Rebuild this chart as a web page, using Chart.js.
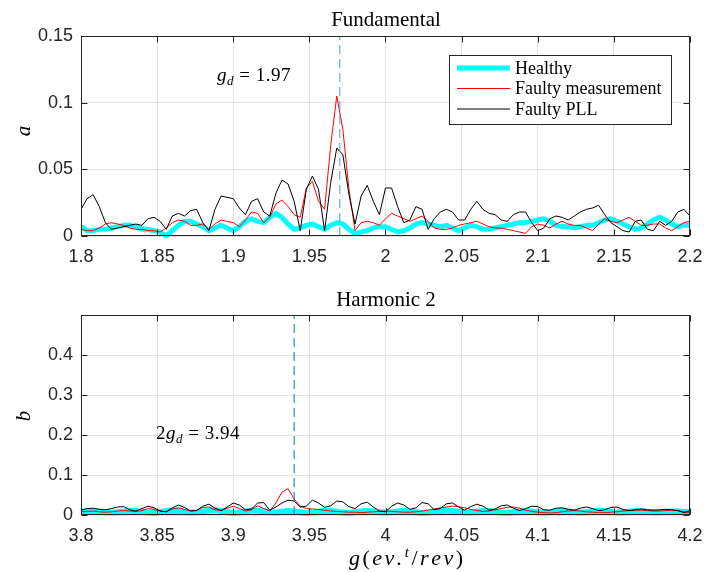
<!DOCTYPE html>
<html>
<head>
<meta charset="utf-8">
<script src="https://cdn.jsdelivr.net/npm/chart.js@4.4.1/dist/chart.umd.min.js"></script>
<style>
  html, body { margin: 0; padding: 0; background: #fff; }
  #wrap { position: relative; width: 704px; height: 572px; }
  .panel { position: absolute; left: 0; width: 704px; height: 286px; }
</style>
</head>
<body>
<div id="wrap">
  <div class="panel" style="top:0"><canvas id="fundChart" width="704" height="286"></canvas></div>
  <div class="panel" style="top:286px"><canvas id="harmChart" width="704" height="286"></canvas></div>
</div>
<script>
// sample grid (ev.^t/rev)
const freqStep = 0.004;
const fundStart = 1.8;
const harmStart = 3.8;
const fundFault = 1.97;
const harmFault = 3.94;

const seriesNames = ['Healthy', 'Faulty measurement', 'Faulty PLL'];

// Fundamental, 1.8 .. 2.2
const fundHealthy = [
  0.007, 0.004, 0.004, 0.005, 0.005, 0.006, 0.007, 0.008, 0.008, 0.007,
  0.005, 0.005, 0.004, 0.003, 0.000, 0.004, 0.008, 0.011, 0.011, 0.009,
  0.007, 0.004, 0.006, 0.008, 0.006, 0.004, 0.007, 0.011, 0.013, 0.011,
  0.010, 0.014, 0.017, 0.014, 0.009, 0.005, 0.006, 0.008, 0.009, 0.007,
  0.005, 0.008, 0.010, 0.009, 0.005, 0.002, 0.003, 0.004, 0.006, 0.007,
  0.007, 0.005, 0.003, 0.004, 0.006, 0.009, 0.010, 0.009, 0.008, 0.007,
  0.008, 0.006, 0.004, 0.006, 0.008, 0.007, 0.005, 0.005, 0.006, 0.007,
  0.008, 0.009, 0.010, 0.010, 0.011, 0.012, 0.013, 0.011, 0.008, 0.007,
  0.007, 0.006, 0.007, 0.008, 0.008, 0.010, 0.012, 0.013, 0.011, 0.009,
  0.007, 0.005, 0.006, 0.009, 0.012, 0.014, 0.012, 0.009, 0.007, 0.008, 0.008
];
const fundMeas = [
  0.005, 0.004, 0.004, 0.006, 0.009, 0.010, 0.009, 0.008, 0.006, 0.005,
  0.005, 0.004, 0.004, 0.003, 0.006, 0.010, 0.012, 0.011, 0.008, 0.008,
  0.009, 0.005, 0.009, 0.012, 0.011, 0.010, 0.007, 0.012, 0.018, 0.017,
  0.010, 0.014, 0.024, 0.027, 0.022, 0.016, 0.014, 0.036, 0.041, 0.026,
  0.020, 0.068, 0.105, 0.080, 0.035, 0.004, 0.010, 0.011, 0.010, 0.008,
  0.013, 0.017, 0.015, 0.013, 0.011, 0.013, 0.015, 0.011, 0.006, 0.005,
  0.005, 0.006, 0.008, 0.009, 0.010, 0.011, 0.009, 0.007, 0.006, 0.006,
  0.005, 0.004, 0.003, 0.002, 0.007, 0.009, 0.008, 0.006, 0.009, 0.011,
  0.009, 0.008, 0.008, 0.006, 0.004, 0.009, 0.013, 0.011, 0.010, 0.012,
  0.014, 0.011, 0.008, 0.008, 0.009, 0.009, 0.006, 0.004, 0.007, 0.010, 0.011
];
const fundPll = [
  0.020, 0.028, 0.031, 0.022, 0.010, 0.005, 0.006, 0.007, 0.008, 0.009,
  0.008, 0.013, 0.014, 0.011, 0.005, 0.015, 0.017, 0.015, 0.019, 0.020,
  0.010, 0.004, 0.020, 0.030, 0.029, 0.028, 0.021, 0.016, 0.026, 0.028,
  0.018, 0.015, 0.032, 0.042, 0.039, 0.026, 0.004, 0.035, 0.045, 0.035,
  0.004, 0.040, 0.066, 0.061, 0.031, 0.009, 0.030, 0.038, 0.026, 0.016,
  0.036, 0.036, 0.022, 0.010, 0.012, 0.022, 0.020, 0.005, 0.013, 0.018,
  0.020, 0.018, 0.012, 0.012, 0.020, 0.026, 0.020, 0.017, 0.016, 0.012,
  0.011, 0.016, 0.018, 0.018, 0.010, 0.004, 0.006, 0.013, 0.015, 0.014,
  0.012, 0.015, 0.018, 0.020, 0.021, 0.023, 0.016, 0.010, 0.007, 0.004,
  0.003, 0.011, 0.012, 0.005, 0.004, 0.011, 0.008, 0.011, 0.018, 0.020, 0.015
];

// Harmonic 2, 3.8 .. 4.2
const harmHealthy = [
  0.008, 0.009, 0.010, 0.009, 0.007, 0.006, 0.007, 0.009, 0.011, 0.010,
  0.008, 0.006, 0.005, 0.007, 0.010, 0.011, 0.010, 0.008, 0.006, 0.007,
  0.009, 0.011, 0.012, 0.010, 0.007, 0.005, 0.006, 0.009, 0.011, 0.011,
  0.009, 0.007, 0.006, 0.008, 0.010, 0.009, 0.007, 0.005, 0.006, 0.008,
  0.010, 0.010, 0.008, 0.006, 0.005, 0.007, 0.009, 0.010, 0.009, 0.007,
  0.006, 0.007, 0.009, 0.010, 0.009, 0.007, 0.005, 0.006, 0.008, 0.010,
  0.011, 0.010, 0.008, 0.006, 0.006, 0.008, 0.010, 0.010, 0.008, 0.006,
  0.005, 0.007, 0.009, 0.010, 0.009, 0.007, 0.006, 0.007, 0.009, 0.010,
  0.009, 0.007, 0.006, 0.007, 0.009, 0.011, 0.010, 0.008, 0.006, 0.006,
  0.008, 0.010, 0.010, 0.008, 0.007, 0.007, 0.008, 0.009, 0.009, 0.008, 0.007
];
const harmMeas = [
  0.008, 0.009, 0.010, 0.008, 0.007, 0.008, 0.010, 0.011, 0.010, 0.009,
  0.011, 0.016, 0.014, 0.010, 0.008, 0.015, 0.018, 0.014, 0.010, 0.012,
  0.019, 0.020, 0.013, 0.011, 0.017, 0.022, 0.016, 0.010, 0.013, 0.023,
  0.016, 0.010, 0.030, 0.057, 0.066, 0.040, 0.022, 0.016, 0.015, 0.014,
  0.012, 0.010, 0.009, 0.008, 0.007, 0.007, 0.006, 0.007, 0.008, 0.009,
  0.010, 0.009, 0.008, 0.007, 0.007, 0.008, 0.010, 0.012, 0.015, 0.018,
  0.020, 0.022, 0.021, 0.018, 0.014, 0.011, 0.009, 0.010, 0.013, 0.016,
  0.019, 0.020, 0.017, 0.012, 0.009, 0.007, 0.006, 0.005, 0.006, 0.008,
  0.010, 0.011, 0.010, 0.008, 0.007, 0.006, 0.006, 0.007, 0.008, 0.010,
  0.011, 0.012, 0.012, 0.011, 0.010, 0.010, 0.011, 0.012, 0.011, 0.008, 0.005
];
const harmPll = [
  0.012, 0.016, 0.017, 0.014, 0.013, 0.016, 0.020, 0.021, 0.013, 0.010,
  0.016, 0.022, 0.018, 0.010, 0.008, 0.018, 0.025, 0.019, 0.010, 0.011,
  0.022, 0.027, 0.017, 0.011, 0.020, 0.030, 0.025, 0.013, 0.015, 0.030,
  0.031, 0.012, 0.020, 0.030, 0.037, 0.035, 0.020, 0.022, 0.037, 0.030,
  0.019, 0.023, 0.035, 0.033, 0.021, 0.016, 0.028, 0.032, 0.020, 0.010,
  0.008, 0.022, 0.030, 0.025, 0.014, 0.018, 0.031, 0.028, 0.013, 0.016,
  0.028, 0.030, 0.020, 0.012, 0.021, 0.027, 0.022, 0.012, 0.015, 0.023,
  0.025, 0.017, 0.011, 0.016, 0.022, 0.021, 0.013, 0.012, 0.017, 0.018,
  0.014, 0.012, 0.017, 0.020, 0.016, 0.011, 0.013, 0.019, 0.020, 0.014,
  0.011, 0.013, 0.015, 0.013, 0.012, 0.013, 0.014, 0.013, 0.011, 0.006, 0.011
];

const serif = '"Liberation Serif", "Times New Roman", serif';
const sans = '"Liberation Sans", Arial, sans-serif';
const axisColor = '#262626';

const toPoints = (start, values) =>
  values.map((v, i) => ({ x: +(start + i * freqStep).toFixed(4), y: v }));

// latex-ish labels: parts are [text, italic, scale, dy]; gap = extra px per glyph
function mathWidth(ctx, parts, size, gap) {
  let w = 0;
  parts.forEach(([txt, it, sc = 1]) => {
    ctx.font = `${it ? 'italic ' : ''}${Math.round(size * sc)}px ${serif}`;
    for (const ch of txt) w += ctx.measureText(ch).width + gap;
  });
  return w - gap;
}
function drawMath(ctx, x, y, parts, size, gap = 0) {
  ctx.textAlign = 'left';
  ctx.textBaseline = 'alphabetic';
  parts.forEach(([txt, it, sc = 1, dy = 0]) => {
    ctx.font = `${it ? 'italic ' : ''}${Math.round(size * sc)}px ${serif}`;
    for (const ch of txt) {
      ctx.fillText(ch, x, y + dy);
      x += ctx.measureText(ch).width + gap;
    }
  });
}

const matlabAxes = {
  id: 'matlabAxes',
  afterDatasetsDraw(chart) {
    const { ctx, chartArea: a, scales } = chart;
    const L = Math.round(a.left) + 0.5, R = Math.round(a.right) - 0.5;
    const T = Math.round(a.top) + 0.5, B = Math.round(a.bottom) - 0.5;
    ctx.save();
    ctx.strokeStyle = axisColor;
    ctx.lineWidth = 1;
    ctx.beginPath();
    scales.x.ticks.forEach(t => {
      const px = Math.round(scales.x.getPixelForValue(t.value)) + 0.5;
      ctx.moveTo(px, T); ctx.lineTo(px, T + 6);
      ctx.moveTo(px, B); ctx.lineTo(px, B - 6);
    });
    scales.y.ticks.forEach(t => {
      const py = Math.round(scales.y.getPixelForValue(t.value)) + 0.5;
      ctx.moveTo(L, py); ctx.lineTo(L + 6, py);
      ctx.moveTo(R, py); ctx.lineTo(R - 6, py);
    });
    ctx.stroke();
    ctx.strokeRect(L, T, R - L, B - T);
    ctx.restore();
  },
  afterDraw(chart, args, o) {
    const { ctx } = chart;
    ctx.save();
    ctx.fillStyle = '#000';

    ctx.font = `21px ${serif}`;
    ctx.textAlign = 'center';
    ctx.textBaseline = 'alphabetic';
    ctx.fillText(o.title, 386, o.titleY);

    ctx.save();
    ctx.translate(24, o.ylabelY);
    ctx.rotate(-Math.PI / 2);
    ctx.font = `italic 21px ${serif}`;
    ctx.textAlign = 'center';
    ctx.textBaseline = 'middle';
    ctx.fillText(o.ylabel, 0, 0);
    ctx.restore();

    drawMath(ctx, o.note.x, o.note.y, o.note.parts, 19, 0.5);

    if (o.xlabel) {
      const w = mathWidth(ctx, o.xlabel.parts, 22, 2.5);
      drawMath(ctx, 406 - w / 2, o.xlabel.y, o.xlabel.parts, 22, 2.5);
    }

    if (o.legend) {
      const g = o.legend;
      ctx.fillStyle = '#fff';
      ctx.fillRect(g.x, g.y, g.w, g.h);
      ctx.strokeStyle = axisColor;
      ctx.lineWidth = 1;
      ctx.strokeRect(g.x + 0.5, g.y + 0.5, g.w, g.h);
      seriesNames.forEach((name, k) => {
        const ds = chart.data.datasets.find(d => d.label === name);
        const ry = g.y + 13 + k * 20.5;
        ctx.strokeStyle = ds.borderColor;
        ctx.lineWidth = ds.borderWidth;
        ctx.beginPath();
        ctx.moveTo(g.x + 8, ry);
        ctx.lineTo(g.x + 61, ry);
        ctx.stroke();
        ctx.fillStyle = '#000';
        ctx.font = `18px ${serif}`;
        ctx.textAlign = 'left';
        ctx.textBaseline = 'middle';
        ctx.fillText(name, g.x + 66, ry + 1);
      });
    }
    ctx.restore();
  }
};

const clipBelow = { left: 0, top: 0, right: 0, bottom: 4 };

function buildDatasets(start, healthy, meas, pll, fault, yTop, dashColor, healthyWidth) {
  return [
    { label: 'fault', data: [{ x: fault, y: 0 }, { x: fault, y: yTop }],
      borderColor: dashColor, borderWidth: 1, borderDash: [9, 5], pointRadius: 0 },
    { label: 'Faulty PLL', data: toPoints(start, pll), clip: clipBelow,
      borderColor: '#000000', borderWidth: 1, pointRadius: 0 },
    { label: 'Faulty measurement', data: toPoints(start, meas), clip: clipBelow,
      borderColor: '#ff0000', borderWidth: 1, pointRadius: 0 },
    { label: 'Healthy', data: toPoints(start, healthy), clip: clipBelow,
      borderColor: '#00ffff', borderWidth: healthyWidth, pointRadius: 0,
      borderJoinStyle: 'round', borderCapStyle: 'round' },
  ];
}

function buildScales(xMin, xMax, yMax, yStep, xHeight, hideTop) {
  const tickFont = { family: sans, size: 18 };
  return {
    x: {
      type: 'linear', min: xMin, max: xMax,
      ticks: { stepSize: 0.05, padding: 10, color: axisColor, font: tickFont,
        maxRotation: 0, autoSkip: false, callback: v => String(+v.toFixed(2)) },
      grid: { color: '#e4e4e4', drawTicks: false },
      border: { display: false },
      afterFit: s => { s.height = xHeight; s.paddingLeft = 0; s.paddingRight = 0; },
    },
    y: {
      min: 0, max: yMax,
      ticks: { stepSize: yStep, padding: 8, color: axisColor, font: tickFont,
        callback: v => (hideTop && v > yMax - 1e-9) ? '' : String(+v.toFixed(2)) },
      grid: { color: '#e4e4e4', drawTicks: false },
      border: { display: false },
      afterFit: s => { s.width = 81; s.paddingTop = 0; s.paddingBottom = 0; },
    },
  };
}

new Chart(document.getElementById('fundChart'), {
  type: 'line',
  data: { datasets: buildDatasets(fundStart, fundHealthy, fundMeas, fundPll, fundFault, 0.15, '#4f9ad3', 5) },
  options: {
    responsive: false, animation: false, devicePixelRatio: 1,
    layout: { padding: { top: 36, right: 14, left: 0, bottom: 0 } },
    scales: buildScales(1.8, 2.2, 0.15, 0.05, 50, false),
    plugins: {
      legend: { display: false }, tooltip: { enabled: false },
      matlabAxes: {
        title: 'Fundamental', titleY: 26, ylabel: 'a', ylabelY: 131,
        note: { x: 217, y: 81, parts: [['g', true], ['d', true, 0.7, 4], [' = 1.97', false]] },
        legend: { x: 449, y: 55, w: 222, h: 69 },
      },
    },
  },
  plugins: [matlabAxes],
});

new Chart(document.getElementById('harmChart'), {
  type: 'line',
  data: { datasets: buildDatasets(harmStart, harmHealthy, harmMeas, harmPll, harmFault, 0.5, '#0072bd', 6) },
  options: {
    responsive: false, animation: false, devicePixelRatio: 1,
    layout: { padding: { top: 29, right: 14, left: 0, bottom: 0 } },
    scales: buildScales(3.8, 4.2, 0.5, 0.1, 57, true),
    plugins: {
      legend: { display: false }, tooltip: { enabled: false },
      matlabAxes: {
        title: 'Harmonic 2', titleY: 20, ylabel: 'b', ylabelY: 130,
        note: { x: 156, y: 153, parts: [['2', false], ['g', true], ['d', true, 0.7, 4], [' = 3.94', false]] },
        xlabel: { y: 279, parts: [['g', true], ['(', false], ['ev.', true], ['t', true, 0.7, -8], ['/', false], ['rev', true], [')', false]] },
      },
    },
  },
  plugins: [matlabAxes],
});
</script>
</body>
</html>
